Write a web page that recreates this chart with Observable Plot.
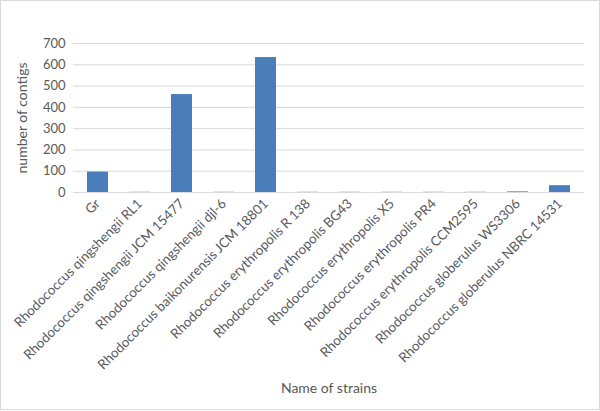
<!DOCTYPE html>
<html>
<head>
<meta charset="utf-8">
<script src="https://cdn.jsdelivr.net/npm/d3@7"></script>
<script src="https://cdn.jsdelivr.net/npm/@observablehq/plot@0.6"></script>
<style>
  html, body { margin: 0; padding: 0; background: #fff; }
  #wrap { position: relative; width: 600px; height: 411px; }
  #wrap::after { content: ""; position: absolute; left: 0; top: 0; width: 598px; height: 408px; border: 1px solid #d9d9d9; pointer-events: none; }
</style>
</head>
<body>
<div id="wrap"></div>
<script>
const strains = [
  "Gr",
  "Rhodococcus qingshengii RL1",
  "Rhodococcus qingshengii JCM 15477",
  "Rhodococcus qingshengii djl-6",
  "Rhodococcus baikonurensis JCM 18801",
  "Rhodococcus erythropolis R 138",
  "Rhodococcus erythropolis BG43",
  "Rhodococcus erythropolis X5",
  "Rhodococcus erythropolis PR4",
  "Rhodococcus erythropolis CCM2595",
  "Rhodococcus globerulus WS3306",
  "Rhodococcus globerulus NBRC 14531"
];
const contigs = [96, 1, 460, 1, 634, 1, 1, 1, 1, 1, 3, 32];
const yTicks = [0, 100, 200, 300, 400, 500, 600, 700];

const data = strains.map((s, i) => ({strain: s, value: contigs[i]}));

const chart = Plot.plot({
  width: 600,
  height: 411,
  marginLeft: 73,
  marginRight: 16,
  marginTop: 43,
  marginBottom: 219,
  style: {fontFamily: "Lato, 'Open Sans', sans-serif", fontSize: "12px", color: "#595959", background: "transparent"},
  x: {domain: strains, paddingInner: 0.5, paddingOuter: 0.25, label: null},
  y: {domain: [0, 700], label: null},
  marks: [
    Plot.gridY(yTicks, {stroke: "#d9d9d9", strokeOpacity: 1}),
    Plot.axisY(yTicks, {tickSize: 0, tickPadding: 8, fontSize: 13, label: "number of contigs", labelAnchor: "center", labelArrow: "none", labelOffset: 56}),
    Plot.barY(data, {x: "strain", y: "value", fill: "#4a7ebb"}),
    Plot.axisX({tickSize: 0, tickPadding: 9, tickRotate: -45, fontSize: 13.4, label: "Name of strains", labelAnchor: "center", labelArrow: "none", labelOffset: 200})
  ]
});
chart.querySelectorAll("[aria-label='x-axis label'], [aria-label='y-axis label']").forEach(g => g.setAttribute("font-size", "14"));
document.getElementById("wrap").appendChild(chart);
</script>
</body>
</html>
